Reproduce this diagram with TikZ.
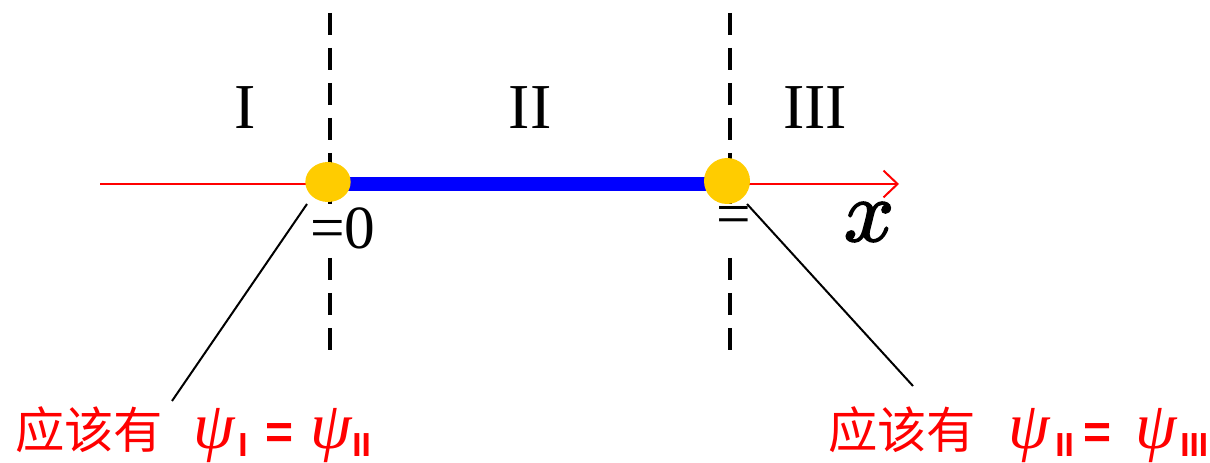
\documentclass[tikz,border=0pt]{standalone}
\usepackage{fontspec}
\setmainfont{Liberation Serif}
\setsansfont{Liberation Sans}
\newfontfamily\cjk{Noto Sans CJK SC}
\newfontfamily\lmm[FakeBold=2]{Latin Modern Math}
\usetikzlibrary{arrows.meta,shapes.geometric}
\definecolor{dotyellow}{RGB}{255,204,0}
\tikzset{
  region/.style={font=\fontsize{48}{52}\selectfont, inner sep=0pt},
  divider/.style={line width=2.4pt, dash pattern=on 16.5pt off 9.75pt},
  leader/.style={line width=1.5pt},
  bound/.style={fill=dotyellow, draw=none, inner sep=0pt},
  ptlabel/.style={fill=white, inner sep=1pt, font=\fontsize{46}{50}\selectfont},
  redlabel/.style={text=red, inner sep=0pt, anchor=base west},
}
\newcommand{\psib}{{\fontsize{50}{52}\selectfont\itshape ψ}}
\newcommand{\subr}[1]{\raisebox{-6pt}{\fontsize{25}{27}\selectfont\sffamily\bfseries #1}}
\newcommand{\eqb}{{\fontsize{36}{38}\selectfont\sffamily\bfseries =}}
\begin{document}
\begin{tikzpicture}[x=0.75pt,y=-0.75pt]
\useasboundingbox (0,0) rectangle (1210,463);
% dashed dividers
\coordinate (d1t) at (330,13);
\coordinate (d1b) at (330,350);
\coordinate (d2t) at (730,13);
\coordinate (d2b) at (730,350);
\draw[divider] (d1t) -- (d1b);
\draw[divider] (d2t) -- (d2b);
% axis
\coordinate (ax0) at (100,184);
\coordinate (ax1) at (899,184);
\draw[red, line width=1.5pt, -{Straight Barb[length=10.5pt,width=20pt,line width=1.5pt]}] (ax0) -- (ax1);
% blue segment
\coordinate (s0) at (340,184);
\coordinate (s1) at (715,184);
\draw[blue, line width=10.5pt] (s0) -- (s1);
% point labels (white background hides the dashes)
\node[ptlabel, minimum height=36pt] (z0) at (343,228) {=0};
\node[ptlabel, minimum height=36pt, minimum width=24pt] (zL) at (734,228) {};
\node[inner sep=0pt, font=\fontsize{46}{50}\selectfont] (zLt) at (734,220) {=};
% boundary points
\node[bound, ellipse, minimum width=34pt, minimum height=30pt] (p0) at (328,182) {};
\node[bound, circle, minimum size=34.5pt] (pL) at (727,181) {};
% region labels
\node[region] (r1) at (245,108) {I};
\node[region] (r2) at (530,108) {II};
\node[region] (r3) at (815,108) {III};
\node[inner sep=0pt, font=\fontsize{66}{70}\selectfont\lmm] (xl) at (869,222) {𝑥};
% bottom labels
\node[redlabel] (b1) at (15,448) {\makebox[133.5pt][l]{\fontsize{37}{40}\selectfont\cjk 应该有}\makebox[33.75pt][l]{\psib}\makebox[20.25pt][l]{\subr{I}}\makebox[33.75pt][l]{\eqb}\makebox[31.5pt][l]{\psib}\subr{II}};
\node[redlabel] (b2) at (828,448) {\makebox[135pt][l]{\fontsize{37}{40}\selectfont\cjk 应该有}\makebox[35.25pt][l]{\psib}\makebox[21pt][l]{\subr{II}}\makebox[39pt][l]{\eqb}\makebox[33.75pt][l]{\psib}\subr{III}};
% leaders
\coordinate (l1a) at (307,204);
\coordinate (l1b) at (172,401);
\coordinate (l2a) at (747,204);
\coordinate (l2b) at (913,386);
\draw[leader] (l1a) -- (l1b);
\draw[leader] (l2a) -- (l2b);
\end{tikzpicture}
\end{document}
